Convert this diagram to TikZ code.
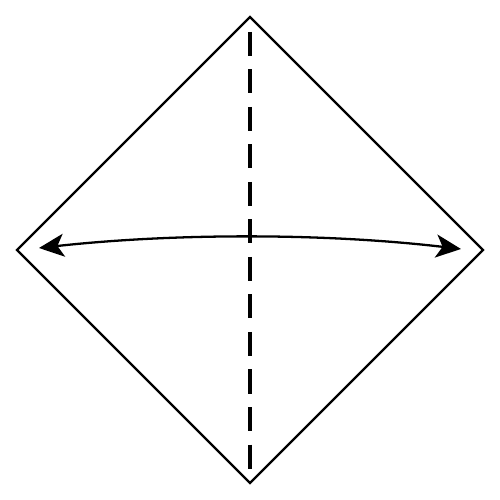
\documentclass[tikz,border=0pt]{standalone}
\usetikzlibrary{arrows.meta}

\tikzset{
  edge/.style={line width=1.3pt, line join=miter},
  fold/.style={line width=1.9pt, dash pattern=on 0.48cm off 0.27cm},
  turn/.style={line width=1.3pt, {Stealth[length=5mm,width=4.6mm,inset=1.3mm]}-{Stealth[length=5mm,width=4.6mm,inset=1.3mm]}}
}

\begin{document}
\begin{tikzpicture}
  \useasboundingbox (-5,-5) rectangle (5,5);
  % corners of the square
  \coordinate (top) at (0,4.66);
  \coordinate (left) at (-4.66,0);
  \coordinate (right) at (4.66,0);
  \coordinate (bottom) at (0,-4.66);
  % outline
  \draw[edge] (top) -- (right) -- (bottom) -- (left) -- cycle;
  % fold line
  \coordinate (foldtop) at (0,4.36);
  \draw[fold] (foldtop) -- (bottom);
  % arrow across
  \coordinate (from) at (-4.22,0.04);
  \coordinate (to) at (4.22,0.02);
  \draw[turn] (from) .. controls (-1.5,0.34) and (1.5,0.34) .. (to);
\end{tikzpicture}
\end{document}
